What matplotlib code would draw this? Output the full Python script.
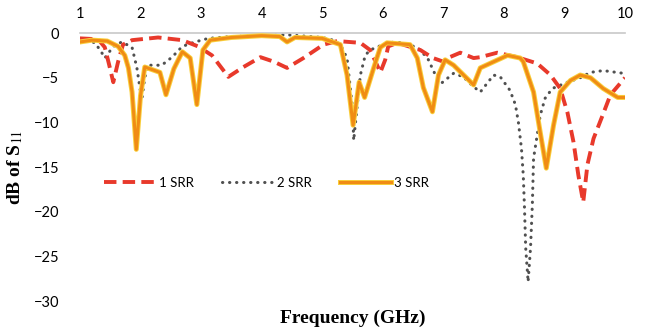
import matplotlib
matplotlib.use("Agg")
import matplotlib.pyplot as plt
import matplotlib.patheffects as pe

# 1 SRR
freq_1 = [1.0, 1.3, 1.41, 1.48, 1.55, 1.63, 1.71, 1.86, 2.29, 2.69, 2.95, 3.18, 3.45, 3.7, 3.98,
          4.2, 4.42, 4.69, 5.02, 5.25, 5.63, 5.79, 5.88, 5.96, 6.04, 6.09, 6.24, 6.62, 6.83, 7.0,
          7.07, 7.28, 7.5, 7.61, 7.89, 8.22, 8.55, 8.77, 8.93, 9.05, 9.15, 9.23, 9.31, 9.38, 9.48,
          9.63, 9.76, 10.0]
db_1 = [-0.6, -0.7, -1.6, -3.5, -5.5, -3.2, -1.3, -0.8, -0.5, -0.8, -1.5, -2.5, -4.9, -3.8, -2.7,
        -3.2, -3.9, -2.8, -1.3, -0.9, -1.1, -1.9, -3.2, -4.4, -3.0, -1.5, -1.1, -1.9, -2.8, -3.2,
        -2.8, -2.2, -2.8, -2.7, -2.2, -2.7, -3.4, -4.7, -6.2, -8.9, -12.2, -15.9, -18.9, -14.7, -11.8,
        -9.2, -6.9, -5.0]

# 2 SRR
freq_2 = [1.0, 1.25, 1.36, 1.41, 1.55, 1.69, 1.86, 1.94, 2.02, 2.07, 2.12, 2.35, 2.52, 2.69, 2.9,
          3.12, 3.5, 4.0, 4.42, 5.0, 5.18, 5.3, 5.41, 5.5, 5.52, 5.63, 5.71, 5.79, 5.9, 6.07,
          6.24, 6.57, 6.74, 6.87, 6.97, 7.17, 7.33, 7.5, 7.61, 7.83, 7.94, 8.1, 8.19, 8.24, 8.29,
          8.32, 8.34, 8.36, 8.40, 8.44, 8.47, 8.49, 8.55, 8.6, 8.68, 8.8, 9.05, 9.26, 9.43, 9.64,
          9.97]
db_2 = [-0.6, -1.1, -2.2, -2.8, -1.5, -1.0, -1.6, -3.9, -7.5, -5.0, -3.6, -3.6, -2.7, -1.5, -1.0,
        -0.6, -0.4, -0.3, -0.2, -0.5, -0.8, -1.3, -2.8, -8.4, -12.0, -4.7, -2.5, -1.9, -1.6, -1.1,
        -1.0, -1.6, -2.8, -4.7, -5.6, -4.5, -4.9, -6.0, -6.6, -4.7, -4.9, -6.4, -8.0, -10.0, -12.9,
        -15.9, -19.5, -24.0, -27.8, -24.0, -19.2, -14.0, -11.4, -9.2, -7.3, -6.2, -5.5, -5.0, -4.4, -4.2,
        -4.5]

# 3 SRR
freq_3 = [1.0, 1.2, 1.45, 1.63, 1.74, 1.8, 1.86, 1.93, 2.0, 2.07, 2.32, 2.42, 2.55, 2.69, 2.82,
          2.93, 3.03, 3.15, 3.5, 4.0, 4.3, 4.42, 4.55, 5.0, 5.3, 5.41, 5.51, 5.61, 5.7, 5.85,
          5.96, 6.07, 6.45, 6.57, 6.67, 6.82, 6.92, 7.03, 7.17, 7.5, 7.61, 8.06, 8.27, 8.32, 8.49,
          8.6, 8.7, 8.82, 8.93, 9.1, 9.26, 9.43, 9.64, 9.88, 10.0]
db_3 = [-1.0, -0.8, -0.9, -1.5, -2.5, -3.9, -6.6, -13.0, -7.0, -3.8, -4.4, -6.9, -4.0, -2.1, -2.8,
        -8.0, -1.9, -0.8, -0.5, -0.3, -0.4, -1.0, -0.5, -0.6, -1.3, -4.7, -10.3, -5.5, -7.2, -3.9,
        -1.6, -1.1, -1.3, -2.8, -6.1, -8.8, -4.7, -3.0, -3.6, -5.8, -3.9, -2.5, -2.8, -3.2, -6.6,
        -11.1, -15.1, -10.3, -6.6, -5.3, -4.7, -5.0, -6.2, -7.2, -7.2]

labels = ["1 SRR", "2 SRR", "3 SRR"]
x_ticks = [1, 2, 3, 4, 5, 6, 7, 8, 9, 10]
y_ticks = [0, -5, -10, -15, -20, -25, -30]

fig = plt.figure(figsize=(6.46, 3.33), dpi=100)
ax = fig.add_axes([0.1238, 0.0946, 0.8437, 0.8063])

ax.plot(freq_1, db_1, color="#e8392b", lw=2.8, linestyle=(0, (3.2, 1.6)), label=labels[0], zorder=3)
ax.plot(freq_2, db_2, color="#505050", lw=2.2, linestyle=(0, (0.1, 2.2)), dash_capstyle="round",
        solid_capstyle="round", label=labels[1], zorder=2)
ax.plot(freq_3, db_3, color="#f08c14", lw=2.2, label=labels[3 - 1], zorder=4,
        path_effects=[pe.Stroke(linewidth=3.6, foreground="#f9cf3c"), pe.Normal()])

ax.set_xlim(1, 10)
ax.set_ylim(-30, 0)
ax.set_xticks(x_ticks)
ax.set_yticks(y_ticks)
ax.xaxis.tick_top()
ax.tick_params(axis="both", length=0, labelsize=10.5)
ax.tick_params(axis="x", pad=9)
ax.tick_params(axis="y", pad=15)
for lab in ax.get_xticklabels() + ax.get_yticklabels():
    lab.set_family("Lato")

for s in ["left", "right", "bottom"]:
    ax.spines[s].set_visible(False)
ax.spines["top"].set_color("#c8c8c8")
ax.spines["top"].set_linewidth(1.2)

ax.set_ylabel("dB of S$_{11}$", family="Liberation Serif", fontweight="bold", fontsize=14, labelpad=6)
ax.set_xlabel("Frequency (GHz)", family="Liberation Serif", fontweight="bold", fontsize=14, labelpad=6)
ax.yaxis.label.set_math_fontfamily("stix") if hasattr(ax.yaxis.label, "set_math_fontfamily") else None

leg = ax.legend(loc="center", bbox_to_anchor=(0.343, 0.441), ncol=3, frameon=False,
                prop={"family": "Lato", "size": 9.5}, handlelength=3.8, columnspacing=2.2,
                handletextpad=0.3)

fig.savefig("out.png", dpi=100)
